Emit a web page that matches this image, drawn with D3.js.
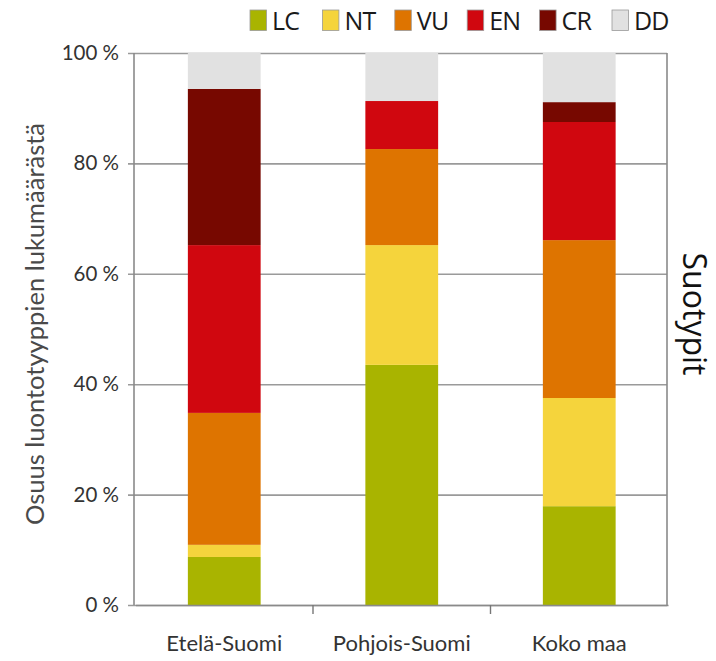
<!DOCTYPE html>
<html>
<head>
<meta charset="utf-8">
<script src="https://cdn.jsdelivr.net/npm/d3@7"></script>
<style>
  html, body { margin: 0; padding: 0; background: #fff; }
  svg { display: block; }
</style>
</head>
<body>
<svg id="chart" width="716" height="661"></svg>
<script>
// Regions along the x axis
const regions = ["Etelä-Suomi", "Pohjois-Suomi", "Koko maa"];
// Threat categories, bottom to top
const classes = ["LC", "NT", "VU", "EN", "CR", "DD"];
const classColors = ["#a9b400", "#f5d43c", "#de7400", "#d0070f", "#770800", "#e1e1e1"];
// Share (%) of habitat types in each category, per region
const LC = [8.7, 43.5, 17.9];
const NT = [2.2, 21.7, 19.6];
const VU = [23.9, 17.4, 28.6];
const EN = [30.4, 8.7, 21.4];
const CR = [28.3, 0.0, 3.6];
const DD = [6.5, 8.7, 8.9];
const yTicks = [0, 20, 40, 60, 80, 100];

const seriesValues = { LC, NT, VU, EN, CR, DD };
const rows = regions.map((r, i) => {
  const row = { region: r };
  classes.forEach(c => row[c] = seriesValues[c][i]);
  return row;
});
const stacked = d3.stack().keys(classes)(rows);

const svg = d3.select("#chart");
const plotLeft = 134, plotRight = 667, plotTop = 53, plotBottom = 605;

const x = d3.scaleBand().domain(regions).range([plotLeft + 1.5, plotRight + 1]).paddingInner(0.59).paddingOuter(0.295);
const y = d3.scaleLinear().domain([0, 100]).range([plotBottom, plotTop]);
const color = d3.scaleOrdinal().domain(classes).range(classColors);

const axisFont = "Lato, 'Open Sans', sans-serif";
const labelFont = "'Open Sans', sans-serif";

// Horizontal gridlines with left ticks
const yAxis = d3.axisLeft(y).tickValues(yTicks).tickFormat(d => d + " %")
  .tickSize(-(plotRight - plotLeft)).tickPadding(15);
const gy = svg.append("g").attr("transform", `translate(${plotLeft},0)`).call(yAxis);
gy.select(".domain").remove();
gy.selectAll(".tick line").attr("stroke", "#9a9a9a").attr("stroke-width", 1.6).attr("x1", -6);
gy.selectAll(".tick text").attr("fill", "#333").style("font-family", axisFont).style("font-size", "20.5px");

// Stacked bars
svg.append("g").selectAll("g").data(stacked).join("g")
  .attr("fill", d => color(d.key))
  .selectAll("rect").data(d => d).join("rect")
  .attr("x", d => x(d.data.region))
  .attr("width", x.bandwidth())
  .attr("y", d => y(d[1]))
  .attr("height", d => y(d[0]) - y(d[1]));

// Left and right frame lines
svg.append("line").attr("x1", plotLeft).attr("x2", plotLeft).attr("y1", plotTop).attr("y2", plotBottom)
  .attr("stroke", "#8a8a8a").attr("stroke-width", 1.6);
svg.append("line").attr("x1", plotRight).attr("x2", plotRight).attr("y1", plotTop).attr("y2", plotBottom)
  .attr("stroke", "#8a8a8a").attr("stroke-width", 1.6);

// Category axis with ticks between the bars
const xAxis = d3.axisBottom(x).tickSize(0).tickPadding(30);
const gx = svg.append("g").attr("transform", `translate(0,${plotBottom})`).call(xAxis);
gx.select(".domain").attr("stroke", "#8a8a8a").attr("stroke-width", 1.6);
gx.selectAll(".tick text").attr("fill", "#333").style("font-family", axisFont).style("font-size", "22px");
const step = x.step();
gx.selectAll(".sep").data(regions.slice(1)).join("line")
  .attr("class", "sep")
  .attr("x1", d => x(d) - (step - x.bandwidth()) / 2)
  .attr("x2", d => x(d) - (step - x.bandwidth()) / 2)
  .attr("y1", 0).attr("y2", 9)
  .attr("stroke", "#777").attr("stroke-width", 1.4);

// Y axis title
svg.append("text")
  .attr("transform", `translate(44,324) rotate(-90)`)
  .attr("text-anchor", "middle")
  .attr("fill", "#4a4a4a")
  .style("font-family", axisFont).style("font-size", "25.5px")
  .text("Osuus luontotyyppien lukumäärästä");

// Side label
svg.append("text")
  .attr("transform", `translate(683,314) rotate(90)`)
  .attr("text-anchor", "middle")
  .attr("fill", "#111")
  .style("font-family", labelFont).style("font-size", "32px")
  .text("Suotypit");

// Legend
const legend = svg.append("g").attr("transform", "translate(250,10)");
const item = legend.selectAll("g").data(classes).join("g")
  .attr("transform", (d, i) => `translate(${i * 72.4},0)`);
item.append("rect").attr("width", 16.5).attr("height", 20.5)
  .attr("fill", d => color(d)).attr("stroke", "#9a9a9a").attr("stroke-width", 0.8);
item.append("text").attr("x", 22).attr("y", 20)
  .attr("fill", "#1a1a1a")
  .style("font-family", labelFont).style("font-size", "25px")
  .style("letter-spacing", "-0.8px")
  .text(d => d);
</script>
</body>
</html>
